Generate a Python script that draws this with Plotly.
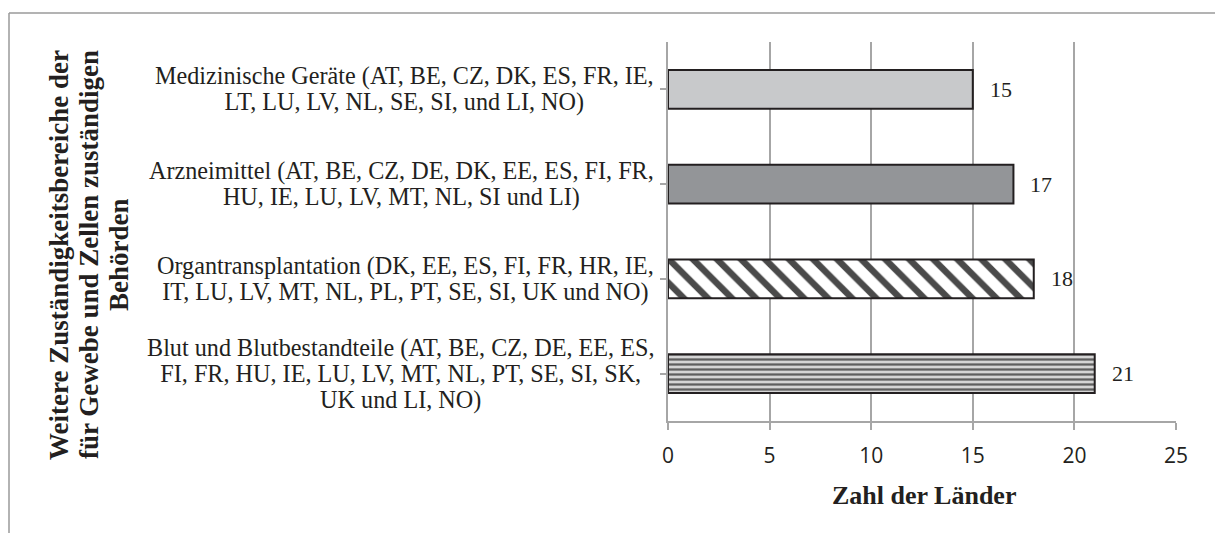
import plotly.graph_objects as go

# Responsibility areas (top to bottom) and number of countries
categories = [
    "Medizinische Geräte (AT, BE, CZ, DK, ES, FR, IE,<br>LT, LU, LV, NL, SE, SI, und LI, NO)",
    "Arzneimittel (AT, BE, CZ, DE, DK, EE, ES, FI, FR,<br>HU, IE, LU, LV, MT, NL, SI und LI)",
    "Organtransplantation (DK, EE, ES, FI, FR, HR, IE,<br>IT, LU, LV, MT, NL, PL, PT, SE, SI, UK und NO)",
    "Blut und Blutbestandteile (AT, BE, CZ, DE, EE, ES,<br>FI, FR, HU, IE, LU, LV, MT, NL, PT, SE, SI, SK,<br>UK und LI, NO)",
]
counts = [15, 17, 18, 21]
x_ticks = [0, 5, 10, 15, 20, 25]

x_title = "Zahl der Länder"
y_title_lines = [
    "Weitere Zuständigkeitsbereiche der",
    "für Gewebe und Zellen zuständigen",
    "Behörden",
]

W, H = 1215, 533
ML, MR, MT, MB = 668, 39, 42, 112
PW = W - ML - MR
PH = H - MT - MB


def px_x(p):
    return (p - ML) / PW


def px_y(p):
    return 1 - (p - MT) / PH


SERIF = "Liberation Serif, Times New Roman, serif"
INK = "#231f20"
GRID = "#a6a6a6"

# Fill style of each bar: solid greys, diagonal hatch, horizontal stripes
bar_styles = [
    dict(color="#c8c9cb"),
    dict(color="#939598"),
    dict(color="#ffffff",
         pattern=dict(shape="\\", fgcolor="#4a4a4a", bgcolor="#ffffff",
                      size=17, solidity=0.38, fillmode="replace")),
    dict(color="#d4d4d4",
         pattern=dict(shape="-", fgcolor="#5e5e5e", bgcolor="#d4d4d4",
                      size=5, solidity=0.45, fillmode="replace")),
]

fig = go.Figure()
for i, (v, st) in enumerate(zip(counts, bar_styles)):
    fig.add_trace(go.Bar(
        x=[v], y=[i], orientation="h", width=0.41,
        marker=dict(line=dict(color="#231f20", width=2), **st),
        hoverinfo="skip", showlegend=False,
    ))

annotations = []

# Value labels to the right of each bar
for i, v in enumerate(counts):
    annotations.append(dict(
        x=v, y=i, xref="x", yref="y", text=str(v), showarrow=False,
        xanchor="left", yanchor="middle", xshift=15,
        font=dict(family=SERIF, size=22, color=INK),
    ))

# Category labels: centred lines, block right edge next to the axis.
# Base font sets the line pitch, the inner span sets the glyph size.
SPAN = '<span style="font-size:24.2px">'
for i, c in enumerate(categories):
    annotations.append(dict(
        x=0, y=i, xref="paper", yref="y",
        text=SPAN + c.replace("<br>", "</span><br>" + SPAN) + "</span>",
        showarrow=False, xanchor="right", yanchor="middle", align="center", xshift=-12,
        font=dict(family=SERIF, size=20, color=INK),
    ))

# Axis titles
annotations.append(dict(
    x=px_x(924), y=px_y(495), xref="paper", yref="paper", text="<b>" + x_title + "</b>",
    showarrow=False, xanchor="center", yanchor="middle",
    font=dict(family=SERIF, size=26, color=INK),
))
for k, line in enumerate(y_title_lines):
    annotations.append(dict(
        x=px_x(59 + 30 * k), y=px_y(255), xref="paper", yref="paper",
        text="<b>" + line + "</b>", showarrow=False, textangle=-90,
        xanchor="center", yanchor="middle",
        font=dict(family=SERIF, size=27, color=INK),
    ))

# Outer chart frame (top and left edges)
shapes = [
    dict(type="line", xref="paper", yref="paper",
         x0=px_x(9), x1=px_x(W + 5), y0=px_y(13), y1=px_y(13),
         line=dict(color="#9a9a9a", width=1.5)),
    dict(type="line", xref="paper", yref="paper",
         x0=px_x(9), x1=px_x(9), y0=px_y(13), y1=px_y(H + 5),
         line=dict(color="#9a9a9a", width=1.5)),
]

fig.update_layout(
    width=W, height=H,
    margin=dict(l=ML, r=MR, t=MT, b=MB),
    paper_bgcolor="white", plot_bgcolor="white",
    barmode="overlay",
    annotations=annotations,
    shapes=shapes,
    xaxis=dict(
        range=[0, 25], tickvals=x_ticks, ticktext=[str(t) for t in x_ticks],
        showgrid=True, gridcolor=GRID, gridwidth=1.5,
        showline=True, linecolor=GRID, linewidth=1.5,
        ticks="outside", ticklen=7, tickcolor=GRID, tickwidth=1.5,
        ticklabelstandoff=8,
        tickfont=dict(family="Open Sans, sans-serif", size=21, color=INK),
        zeroline=False, fixedrange=True,
    ),
    yaxis=dict(
        range=[3.5, -0.5], tickmode="array", tickvals=list(range(len(categories))),
        ticktext=[""] * len(categories), tickson="boundaries",
        showgrid=False, showline=True, linecolor=GRID, linewidth=1.5,
        ticks="outside", ticklen=6, tickcolor=GRID, tickwidth=1.5,
        zeroline=False, fixedrange=True,
    ),
)

fig.write_html("out.html")
